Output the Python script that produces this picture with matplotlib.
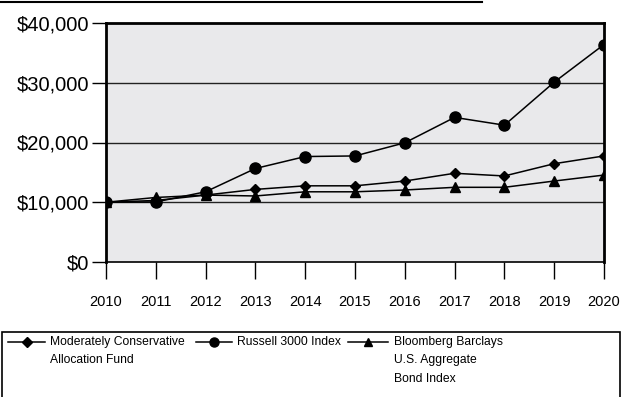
import matplotlib.pyplot as plt
from matplotlib.lines import Line2D
from matplotlib.patches import Rectangle

plt.rcParams['font.family'] = ['Liberation Sans', 'DejaVu Sans']

# growth of $10,000
years = [2010, 2011, 2012, 2013, 2014, 2015, 2016, 2017, 2018, 2019, 2020]
fund = [10000, 10300, 11200, 12150, 12750, 12750, 13550, 14850, 14400, 16450, 17750]
russell = [10000, 10050, 11750, 15650, 17650, 17750, 19950, 24200, 22900, 30100, 36400]
bond = [10000, 10800, 11200, 11050, 11750, 11750, 12050, 12500, 12500, 13550, 14550]
labels = ['Moderately Conservative\nAllocation Fund', 'Russell 3000 Index',
          'Bloomberg Barclays\nU.S. Aggregate\nBond Index']
markers = ['D', 'o', '^']
msizes = [5.5, 8, 7]
yticks = [0, 10000, 20000, 30000, 40000]

W, H = 622, 397
fig = plt.figure(figsize=(W / 100, H / 100), dpi=100)
ax = fig.add_axes([106 / W, 1 - 262 / H, 498 / W, 239 / H])
ax.set_facecolor('#e9e9eb')

for vals, m, s in zip([fund, russell, bond], markers, msizes):
    ax.plot(years, vals, color='black', lw=1.1, marker=m, ms=s, zorder=3)

ax.set_xlim(2010, 2020)
ax.set_ylim(0, 40000)
ax.set_xticks(years)
ax.set_yticks(yticks)
ax.set_yticklabels(['$%s' % format(v, ',') for v in yticks], fontsize=14.5)
ax.set_xticklabels([str(y) for y in years], fontsize=10.5)
ax.tick_params(axis='y', length=10, width=1, pad=2)
ax.tick_params(axis='x', length=12, width=1, pad=12)
for v in yticks[1:-1]:
    ax.axhline(v, color='#222222', lw=1.0, zorder=1)

for s in ['top', 'left', 'right']:
    ax.spines[s].set_linewidth(2)
ax.spines['bottom'].set_linewidth(1.2)
for s in ax.spines.values():
    s.set_clip_on(False)
    s.set_zorder(5)

# rule at the very top
fig.add_artist(Line2D([0, 482 / W], [1 - 1.5 / H] * 2, color='black', lw=1.5))

# legend box, drawn by hand so the keys sit on the first text line
fig.add_artist(Rectangle((2 / W, -0.02), 618 / W, (H - 332) / H + 0.02,
                         fill=False, ec='black', lw=1.2))
key_x = [(8, 45), (196, 232), (348, 388)]
text_x = [50, 237, 394]
key_y = 1 - 342 / H
key_ms = [5, 6.5, 6]
for (x0, x1), tx, lab, m, s in zip(key_x, text_x, labels, markers, key_ms):
    fig.add_artist(Line2D([x0 / W, x1 / W], [key_y, key_y], color='black', lw=1.1))
    fig.add_artist(Line2D([(x0 + x1) / 2 / W], [key_y], color='black',
                          marker=m, ms=s, lw=0))
    fig.text(tx / W, 1 - 336 / H, lab, fontsize=8.7, va='top', ha='left',
             linespacing=1.72)

fig.savefig('out.png', dpi=100)
